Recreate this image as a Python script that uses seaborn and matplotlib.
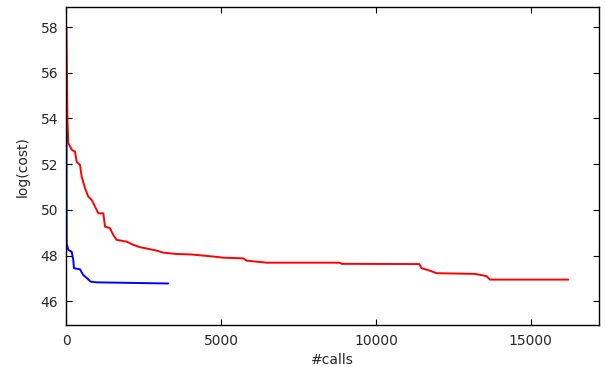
import matplotlib
matplotlib.use("Agg")
import matplotlib.pyplot as plt
import seaborn as sns
import pandas as pd

red_calls = [0, 30, 58, 170, 275, 330, 436, 490, 598, 705, 813, 920, 1028, 1190, 1244,
             1405, 1512, 1620, 1944, 2160, 2374, 2913, 3127, 3560, 4030, 4742, 5065, 5711,
             5820, 6466, 8800, 8900, 11396, 11473, 11741, 11957, 13195, 13572, 13679, 16209]
red_cost = [58.0, 54.0, 52.92, 52.63, 52.55, 52.1, 51.97, 51.46, 50.95, 50.58, 50.44, 50.15,
            49.85, 49.85, 49.27, 49.2, 48.9, 48.69, 48.61, 48.47, 48.37, 48.22, 48.13, 48.07,
            48.05, 47.96, 47.91, 47.88, 47.78, 47.69, 47.69, 47.64, 47.63, 47.45, 47.34, 47.23,
            47.2, 47.1, 46.95, 46.95]

blue_calls = [0, 5, 58, 168, 220, 242, 436, 543, 672, 781, 975, 2374, 3288]
blue_cost = [53.4, 48.54, 48.25, 48.17, 47.81, 47.45, 47.4, 47.15, 47.0, 46.86, 46.83, 46.8, 46.78]

x_ticks = [0, 5000, 10000, 15000]
y_ticks = [46, 48, 50, 52, 54, 56, 58]

sns.set_style("white")
plt.rcParams['font.family'] = ['DejaVu Sans']

fig = plt.figure(figsize=(6.06, 3.67), dpi=100)
ax = fig.add_axes([0.1097, 0.1136, 0.8787, 0.8674])

red_df = pd.DataFrame({"calls": red_calls, "cost": red_cost})
blue_df = pd.DataFrame({"calls": blue_calls, "cost": blue_cost})
sns.lineplot(data=red_df, x="calls", y="cost", ax=ax, color="#ff0000", lw=1.4,
             sort=False, estimator=None)
sns.lineplot(data=blue_df, x="calls", y="cost", ax=ax, color="#0000ff", lw=1.4,
             sort=False, estimator=None)

ax.set_xlim(0, 17200)
ax.set_ylim(44.95, 58.88)
ax.set_xticks(x_ticks)
ax.set_yticks(y_ticks)
ax.set_xlabel("#calls", fontsize=10)
ax.set_ylabel("log(cost)", fontsize=10, labelpad=8)
ax.tick_params(direction="in", length=4, width=0.8, top=True, right=True,
               bottom=True, left=True, labelsize=10, color="black", pad=6)
for s in ax.spines.values():
    s.set_color("black")
    s.set_linewidth(1.0)
    s.set_visible(True)

fig.savefig("out.png", dpi=100, facecolor="white")
